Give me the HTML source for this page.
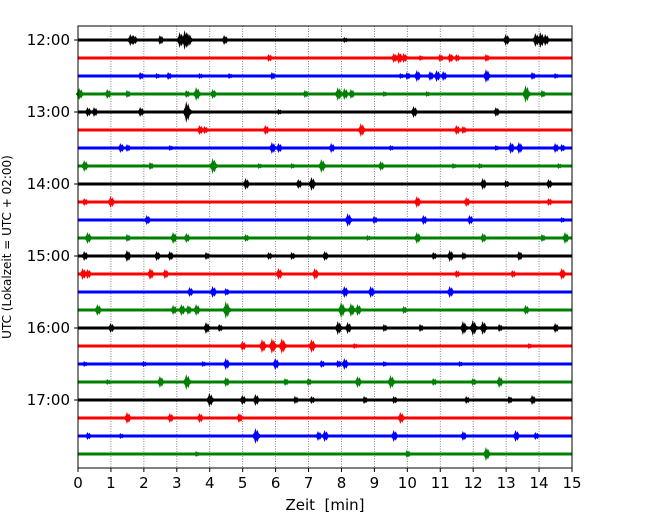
<!DOCTYPE html>
<html><head><meta charset="utf-8"><style>
body{margin:0;background:#fff;font-family:"Liberation Sans","DejaVu Sans",sans-serif}
svg text{font-family:"DejaVu Sans","Liberation Sans",sans-serif}
</style></head><body>
<svg id="c" width="650" height="520"></svg>
<script>
const hourLabels=["12:00","13:00","14:00","15:00","16:00","17:00"];
const xTicks=[0,1,2,3,4,5,6,7,8,9,10,11,12,13,14,15];
const colors=["#000","#f00","#00f","#008000"];
// events per trace: [minute, amplitude(px)]
const tr0=[[1.6,6],[1.7,5],[2.5,5],[3.1,8],[3.25,10],[3.35,7],[4.45,5],[8.1,3],[13.0,6],[13.9,7],[14.05,8],[14.2,6]];
const tr1=[[5.8,4],[9.6,5],[9.75,6],[9.9,5],[10.4,3],[11.0,4],[11.3,5],[11.5,4],[12.4,4]];
const tr2=[[1.9,4],[2.4,3],[2.75,4],[3.7,3],[4.6,3],[5.9,4],[9.8,3],[10.0,4],[10.3,6],[10.7,5],[10.9,6],[11.1,5],[12.4,7],[13.8,4],[14.5,3]];
const tr3=[[0.05,6],[0.9,5],[1.5,4],[3.3,4],[3.6,7],[4.1,5],[6.9,4],[7.9,7],[8.1,6],[8.3,5],[9.3,3],[10.6,3],[13.6,9],[14.1,4]];
const tr4=[[0.3,5],[0.5,5],[1.9,5],[3.3,11],[6.1,3],[10.2,6],[12.7,5]];
const tr5=[[3.7,5],[3.85,4],[5.7,5],[8.6,7],[11.5,5],[11.7,4]];
const tr6=[[1.3,5],[1.5,4],[2.8,3],[5.9,6],[6.1,5],[7.7,5],[9.5,3],[12.7,3],[13.15,6],[13.4,6],[14.5,5],[14.7,4]];
const tr7=[[0.2,6],[2.2,4],[4.1,8],[5.5,3],[6.5,3],[7.4,7],[9.2,5],[11.4,3],[12.2,3],[14.6,3]];
const tr8=[[5.1,6],[6.7,5],[7.1,7],[12.3,6],[13.0,4],[14.3,5]];
const tr9=[[0.2,4],[1.0,6],[10.3,6],[11.8,5],[14.3,4]];
const tr10=[[2.1,5],[8.2,7],[9.0,4],[10.5,5],[11.9,5],[14.7,3]];
const tr11=[[0.3,6],[1.5,4],[2.9,6],[3.3,5],[5.1,4],[7.0,3],[8.8,3],[10.3,6],[12.3,5],[14.1,4],[14.8,6]];
const tr12=[[0.2,5],[1.5,6],[2.4,5],[2.8,5],[3.9,4],[5.8,4],[6.5,4],[7.5,5],[10.8,4],[11.3,6],[11.7,4],[13.4,5]];
const tr13=[[0.15,6],[0.3,5],[2.2,6],[2.65,5],[6.1,6],[7.2,6],[11.5,4],[13.2,4],[14.7,6]];
const tr14=[[3.4,5],[4.1,6],[4.5,4],[8.1,6],[8.9,6],[11.3,6]];
const tr15=[[0.6,6],[2.9,5],[3.15,6],[3.35,5],[3.6,6],[4.5,9],[8.0,8],[8.3,7],[8.5,6],[9.9,4],[13.6,5]];
const tr16=[[1.0,5],[3.9,6],[4.3,4],[7.9,7],[8.2,6],[9.3,4],[10.4,4],[11.7,7],[12.0,8],[12.3,7],[12.8,4],[14.5,5]];
const tr17=[[5.0,5],[5.6,7],[5.9,8],[6.2,8],[7.1,7],[8.4,3],[13.7,3]];
const tr18=[[0.2,3],[2.0,3],[3.8,3],[4.5,6],[6.0,6],[7.4,4],[7.9,4],[8.1,6],[9.3,3],[11.6,3]];
const tr19=[[0.9,3],[2.5,6],[3.3,8],[4.5,5],[6.3,4],[7.0,4],[8.5,6],[9.5,7],[10.8,4],[12.0,4],[12.8,6]];
const tr20=[[4.0,7],[5.0,5],[5.4,6],[6.6,4],[7.1,4],[8.7,4],[9.6,4],[11.8,4],[13.1,4],[13.8,5]];
const tr21=[[1.5,6],[2.8,5],[3.7,5],[4.9,5],[9.8,6]];
const tr22=[[0.3,4],[1.3,3],[5.4,8],[7.3,5],[7.5,6],[9.6,6],[11.7,5],[13.3,6],[13.9,4]];
const tr23=[[3.6,3],[10.0,4],[12.4,7]];
const traces=[tr0,tr1,tr2,tr3,tr4,tr5,tr6,tr7,tr8,tr9,tr10,tr11,tr12,tr13,tr14,tr15,tr16,tr17,tr18,tr19,tr20,tr21,tr22,tr23];

const L=78,R=572,T=26,B=468,y0=40,dy=18;
const xs=m=>L+m*(R-L)/15;
const ys=i=>y0+i*dy;
const NS="http://www.w3.org/2000/svg";
const svg=document.getElementById('c');
function mk(tag,attrs,parent){const e=document.createElementNS(NS,tag);for(const k in attrs)e.setAttribute(k,attrs[k]);(parent||svg).appendChild(e);return e;}

xTicks.forEach(t=>{
  if(t>0&&t<15){const g=mk('line',{x1:xs(t),x2:xs(t),y1:T,y2:B,stroke:'#666','stroke-width':0.8,'stroke-dasharray':'1,1.5'});
  
  }
  const tk=mk('line',{x1:xs(t),x2:xs(t),y1:B,y2:B+4,stroke:'#000'});
  
  
  const tl=mk('text',{x:xs(t),y:B+20,'text-anchor':'middle','font-size':15});
  tl.textContent=t;
  
  
});
traces.forEach((ev,i)=>{
  const y=ys(i),c=colors[i%4];
  const g=mk('g',{});
  
  
  mk('rect',{x:L,y:y-1.5,width:R-L,height:3,fill:c},g);
  ev.forEach(([m,a])=>{
    const x=xs(m);
    const p=mk('polygon',{points:`${x-4},${y} ${x-1.5},${y-a*0.45} ${x-0.5},${y-a} ${x+0.7},${y-a*0.5} ${x+1.5},${y-a*0.8} ${x+3},${y-a*0.3} ${x+7},${y} ${x+3},${y+a*0.3} ${x+1.5},${y+a*0.8} ${x+0.7},${y+a*0.5} ${x-0.5},${y+a} ${x-1.5},${y+a*0.45}`,fill:c},g);
    
    
  });
});
hourLabels.forEach((h,k)=>{
  const y=ys(k*4);
  const tk=mk('line',{x1:L-4,x2:L,y1:y,y2:y,stroke:'#000'});
  
  
  const t=mk('text',{x:L-8,y:y+5,'text-anchor':'end','font-size':15});
  t.textContent=h;
  
  
});
const fr=mk('rect',{x:L,y:T,width:R-L,height:B-T,fill:'none',stroke:'#000','stroke-width':1});


const xt=mk('text',{x:(L+R)/2,y:510,'text-anchor':'middle','font-size':15,style:'white-space:pre'});
xt.textContent='Zeit  [min]';


const yt=mk('text',{x:0,y:0,'text-anchor':'middle','font-size':12,transform:`translate(11,${(T+B)/2}) rotate(-90)`});
yt.textContent='UTC (Lokalzeit = UTC + 02:00)';


</script>
</body></html>
